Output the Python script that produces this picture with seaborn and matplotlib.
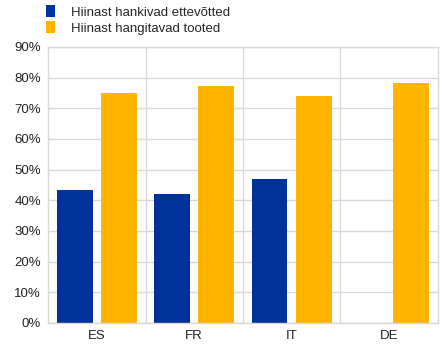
import matplotlib
matplotlib.use("Agg")
import matplotlib.pyplot as plt
import numpy as np
import pandas as pd
import seaborn as sns
from matplotlib.ticker import FuncFormatter, MultipleLocator

countries = ["ES", "FR", "IT", "DE"]
firms = [43.5, 42.2, 47.1, np.nan]
products = [75.0, 77.2, 73.9, 78.2]
series_names = ["Hiinast hankivad ettevõtted", "Hiinast hangitavad tooted"]
colors = ["#003299", "#FFB400"]

df = pd.DataFrame({
    "country": countries * 2,
    "value": firms + products,
    "series": [series_names[0]] * 4 + [series_names[1]] * 4,
})

sns.set_style("white")
plt.rcParams["font.family"] = ["Liberation Sans", "DejaVu Sans"]

fig = plt.figure(figsize=(4.45, 3.48), dpi=100)
ax = fig.add_axes([0.108, 0.072, 0.876, 0.793])

sns.barplot(data=df, x="country", y="value", hue="series", palette=colors,
            width=0.91, gap=0.19, ax=ax, saturation=1, legend=True,
            linewidth=0)

ax.set_ylim(0, 90)
ax.set_xlim(-0.5, 3.5)
ax.yaxis.set_major_locator(MultipleLocator(10))
ax.yaxis.set_major_formatter(FuncFormatter(lambda v, p: f"{v:.0f}%"))
ax.set_xlabel("")
ax.set_ylabel("")

grid_color = "#d9d9d9"
ax.grid(axis="y", color=grid_color, linewidth=1)
for xb in np.arange(0.5, 3.5, 1):
    ax.axvline(xb, color=grid_color, linewidth=1, zorder=0)
ax.set_axisbelow(True)
for s in ax.spines.values():
    s.set_color(grid_color)
    s.set_linewidth(1)
ax.tick_params(axis="both", length=0, labelsize=9.5, colors="#222222", pad=5)

handles, labels = ax.get_legend_handles_labels()
ax.legend(handles, labels, loc="lower left", bbox_to_anchor=(-0.02, 1.025),
          frameon=False, fontsize=9.5, handlelength=0.75, handleheight=1.0,
          handletextpad=1.2, labelspacing=0.2, borderaxespad=0)

fig.savefig("out.png", dpi=100)
